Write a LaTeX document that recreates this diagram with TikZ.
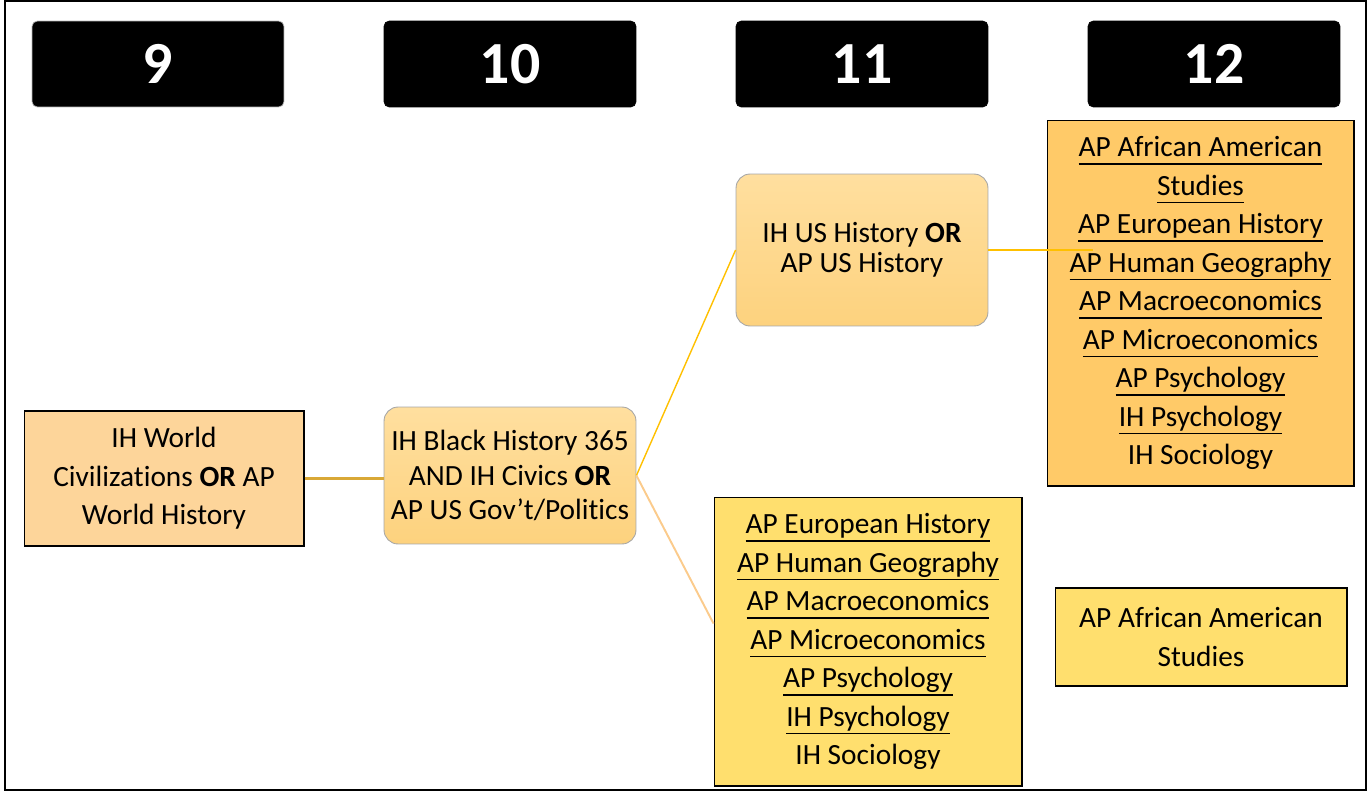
\documentclass[tikz,border=0pt]{standalone}
\usepackage{fontspec}
\setmainfont{Carlito}[Ligatures=NoCommon]
\usepackage{tikz}
\definecolor{peach}{HTML}{FDD59A}
\definecolor{gradtop}{HTML}{FFDF9F}
\definecolor{gradbot}{HTML}{FDD27E}
\definecolor{apricot}{HTML}{FFCA68}
\definecolor{butter}{HTML}{FFDF6E}
\definecolor{goldline}{HTML}{D9A836}
\definecolor{amber}{HTML}{FFC000}
\definecolor{peachline}{HTML}{FBCB8C}
\newcommand\course[1]{\setbox0\hbox{#1}%
  \rlap{\raisebox{-4.6pt}{\rule{\wd0}{0.9pt}}}\box0}

\begin{document}
\begin{tikzpicture}[
      x=0.02cm, y=-0.02cm,
      grade/.style={
        rectangle, rounded corners=3pt, fill=black, draw=#1,
        minimum width=5.04cm, minimum height=1.72cm,
        text=white, font=\fontsize{34}{34}\selectfont\bfseries
      },
      grade/.default=black,
      box/.style={
        rectangle, draw=black, line width=0.6pt, align=center,
        inner sep=0pt, font=\fontsize{16.7}{21.9}\selectfont
      },
      rbox/.style={
        rectangle, rounded corners=8pt, draw=gray!70, line width=0.5pt,
        top color=gradtop, bottom color=gradbot,
        align=center, inner sep=0pt,
        minimum width=5.04cm
      }
    ]
      \useasboundingbox (0,0) rectangle (1369,792);
      \draw[line width=1.1pt] (5,1) rectangle (1366,790);

      % grade headers
      \foreach \g/\x/\c in {9/158/gray!55,10/510/black,11/862/black,12/1214/black} {
        \node[grade=\c] (g\g) at (\x,64) {\g};
      }

      \node[box, fill=peach, minimum width=5.6cm, minimum height=2.7cm]
        (world) at (164,478.5)
        {IH World\\ Civilizations \textbf{OR} AP\\ World History};
      \node[rbox, minimum height=2.74cm, font=\fontsize{16.7}{19.6}\selectfont]
        (civics) at (510,475.5)
        {IH Black History 365\\ AND IH Civics \textbf{OR}\\ AP US Gov't/Politics};
      \node[rbox, minimum height=3.04cm, font=\fontsize{16.7}{17}\selectfont]
        (ush) at (862,250)
        {IH US History \textbf{OR}\\ AP US History};
      \node[box, fill=apricot, minimum width=6.14cm, minimum height=7.32cm]
        (senior) at (1200.5,303)
        {\course{AP African American}\\ \course{Studies}\\
         \course{AP European History}\\ \course{AP Human Geography}\\
         \course{AP Macroeconomics}\\ \course{AP Microeconomics}\\
         \course{AP Psychology}\\ \course{IH Psychology}\\ IH Sociology};
      \node[box, fill=butter, minimum width=6.16cm, minimum height=5.78cm]
        (junior) at (868,641.5)
        {\course{AP European History}\\ \course{AP Human Geography}\\
         \course{AP Macroeconomics}\\ \course{AP Microeconomics}\\
         \course{AP Psychology}\\ \course{IH Psychology}\\ IH Sociology};
      \node[box, fill=butter, minimum width=5.84cm, minimum height=1.96cm]
        (aaas) at (1201,637)
        {AP African American\\ Studies};

      \draw[goldline, line width=1.4pt] (world.east) -- (world.east -| civics.west);
      \draw[amber, line width=0.8pt] (civics.east) -- (ush.west);
      \draw[peachline, line width=1.1pt] (civics.east) -- ([yshift=0.36cm]junior.west);
      \draw[amber, line width=1.1pt] (ush.east) -- ([xshift=0.92cm]ush.east -| senior.west);
    \end{tikzpicture}
\end{document}
